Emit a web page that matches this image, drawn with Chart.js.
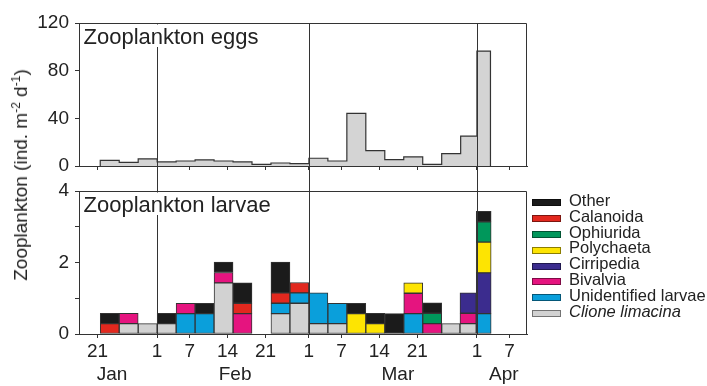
<!DOCTYPE html>
<html>
<head>
<meta charset="utf-8">
<script src="https://cdn.jsdelivr.net/npm/chart.js@4.4.1/dist/chart.umd.min.js"></script>
<style>
  body { margin: 0; background: #fff; font-family: 'Liberation Sans', Arial, sans-serif; color: #222; }
  #wrap { position: relative; width: 707px; height: 386px; overflow: hidden; }
  #wrap canvas { position: absolute; left: 0; top: 0; }
  #ytitle { position: absolute; left: 21px; top: 175px; transform: translate(-50%, -50%) rotate(-90deg); white-space: nowrap; font-size: 19px; }
  #ytitle sup { font-size: 12px; line-height: 0; }
  #legend { position: absolute; left: 532px; top: 193px; font-size: 16.5px; line-height: 15.8px; }
  #legend .row { display: flex; align-items: center; white-space: nowrap; }
  #legend .sw { width: 27px; height: 5px; border: 1px solid rgba(0, 0, 0, 0.45); margin-right: 8px; position: relative; top: 2px; }
</style>
</head>
<body>
<div id="wrap">
  <canvas id="eggs" width="707" height="386"></canvas>
  <canvas id="larvae" width="707" height="386"></canvas>
  <div id="ytitle">Zooplankton (ind. m<sup>-2</sup> d<sup>-1</sup>)</div>
  <div id="legend"></div>
</div>
<script>
// sampling intervals as day of year (1 = 1 Jan), one value per interval
const binEdges = [21.5, 25, 28.5, 32, 35.5, 39, 42.5, 46, 49.5, 53, 56.5, 60, 63.5, 67, 70.5, 74, 77.5, 81, 84.5, 88, 91, 93.5]

const eggs = [4.8, 3.1, 5.9, 3.4, 4.2, 5.1, 4.2, 3.4, 1.4, 2.5, 2.0, 6.5, 4.2, 44.1, 12.9, 5.3, 7.6, 1.4, 10.4, 25.0, 96.4]

const clione     = [0, 0.29, 0.29, 0.29, 0, 0, 1.43, 0, 0, 0.57, 0.86, 0.29, 0.29, 0, 0, 0, 0, 0, 0.29, 0.29, 0]
const unident    = [0, 0, 0, 0, 0.57, 0.57, 0, 0, 0, 0.29, 0.29, 0.86, 0.57, 0, 0, 0, 0.57, 0, 0, 0, 0.57]
const bivalvia   = [0, 0.29, 0, 0, 0.29, 0, 0.29, 0.57, 0, 0, 0, 0, 0, 0, 0, 0, 0.57, 0.29, 0, 0.29, 0]
const cirripedia = [0, 0, 0, 0, 0, 0, 0, 0, 0, 0, 0, 0, 0, 0, 0, 0, 0, 0, 0, 0.57, 1.14]
const polychaeta = [0, 0, 0, 0, 0, 0, 0, 0, 0, 0, 0, 0, 0, 0.57, 0.29, 0, 0.29, 0, 0, 0, 0.86]
const ophiurida  = [0, 0, 0, 0, 0, 0, 0, 0, 0, 0, 0, 0, 0, 0, 0, 0, 0, 0.29, 0, 0, 0.57]
const calanoida  = [0.29, 0, 0, 0, 0, 0, 0, 0.29, 0, 0.29, 0.29, 0, 0, 0, 0, 0, 0, 0, 0, 0, 0]
const other      = [0.29, 0, 0, 0.29, 0, 0.29, 0.29, 0.57, 0, 0.86, 0, 0, 0, 0.29, 0.29, 0.57, 0, 0.29, 0, 0, 0.29]

// axis ticks
const dayTicks = [21, 32, 38, 45, 52, 60, 66, 73, 80, 91, 97]
const dayLabels = ['21', '1', '7', '14', '21', '1', '7', '14', '21', '1', '7']
const monthTicks = [23.66, 46.38, 76.42, 95.95]
const monthLabels = ['Jan', 'Feb', 'Mar', 'Apr']
const monthStarts = [32, 60, 91]

const xMin = 17.58
const xMax = 100.24

// stack order, bottom first
const larvae = [
  { label: 'Clione limacina', values: clione, color: '#d2d2d2', italic: true },
  { label: 'Unidentified larvae', values: unident, color: '#0a9fdb' },
  { label: 'Bivalvia', values: bivalvia, color: '#e5147f' },
  { label: 'Cirripedia', values: cirripedia, color: '#3b2c8e' },
  { label: 'Polychaeta', values: polychaeta, color: '#fde402' },
  { label: 'Ophiurida', values: ophiurida, color: '#00975b' },
  { label: 'Calanoida', values: calanoida, color: '#e2281e' },
  { label: 'Other', values: other, color: '#1b1b1b' }
]

const FONT = '"Liberation Sans", Arial, sans-serif'
const INK = '#333'
Chart.defaults.font.family = FONT
Chart.defaults.font.size = 19
Chart.defaults.color = '#222'

const binCentres = binEdges.slice(0, -1).map((e, i) => (e + binEdges[i + 1]) / 2)

// outline of the egg histogram: up from zero, one step per interval, back down
const eggSteps = [{ x: binEdges[0], y: 0 }]
eggs.forEach((v, i) => eggSteps.push({ x: binEdges[i], y: v }))
eggSteps.push({ x: binEdges[binEdges.length - 1], y: eggs[eggs.length - 1] })
eggSteps.push({ x: binEdges[binEdges.length - 1], y: 0 })

// month lines, frame and panel title
const panelDecor = {
  id: 'panelDecor',
  afterDatasetsDraw(chart, args, opts) {
    const { ctx, chartArea: a } = chart
    const x = chart.scales.x
    ctx.save()
    ctx.strokeStyle = INK
    ctx.lineWidth = 1
    monthStarts.forEach(d => {
      const px = Math.round(x.getPixelForValue(d)) + 0.5
      ctx.beginPath()
      ctx.moveTo(px, a.top)
      ctx.lineTo(px, a.bottom + opts.extend)
      ctx.stroke()
    })
    ctx.beginPath()
    ctx.moveTo(a.left, Math.round(a.top) + 0.5)
    ctx.lineTo(Math.round(a.right) - 0.5, Math.round(a.top) + 0.5)
    ctx.lineTo(Math.round(a.right) - 0.5, a.bottom)
    ctx.stroke()

    ctx.font = '22px ' + FONT
    const w = ctx.measureText(opts.text).width
    ctx.fillStyle = '#fff'
    ctx.fillRect(a.left + 1.5, a.top + 1.5, w + 8, 22.5)
    ctx.fillStyle = '#222'
    ctx.textBaseline = 'alphabetic'
    ctx.fillText(opts.text, a.left + 4.5, a.top + 20.5)
    ctx.restore()
  }
}

const setDayTicks = s => { s.ticks = dayTicks.map(v => ({ value: v })) }
const setMonthTicks = s => { s.ticks = monthTicks.map(v => ({ value: v })) }
const tickGrid = { drawOnChartArea: false, tickLength: 4, color: INK, offset: false }

new Chart(document.getElementById('eggs'), {
  type: 'line',
  data: {
    datasets: [{
      data: eggSteps,
      stepped: true,
      fill: 'origin',
      backgroundColor: '#d4d4d4',
      borderColor: INK,
      borderWidth: 1.2,
      pointRadius: 0
    }]
  },
  plugins: [panelDecor],
  options: {
    responsive: false,
    animation: false,
    events: [],
    layout: { padding: { top: 23, right: 180, bottom: 215, left: 0 } },
    plugins: {
      legend: { display: false },
      tooltip: { enabled: false },
      panelDecor: { text: 'Zooplankton eggs', extend: 25 }
    },
    scales: {
      x: {
        type: 'linear', min: xMin, max: xMax, offset: false,
        afterBuildTicks: setDayTicks,
        afterFit: s => { s.height = 5 },
        grid: tickGrid,
        border: { color: INK },
        ticks: { display: false }
      },
      y: {
        min: 0, max: 120,
        afterFit: s => { s.width = 79 },
        grid: tickGrid,
        border: { color: INK },
        ticks: { stepSize: 20, padding: 6, callback: v => (v % 40 === 0 ? v : '') }
      }
    }
  }
})

new Chart(document.getElementById('larvae'), {
  type: 'bar',
  data: {
    datasets: larvae.map(s => ({
      label: s.label,
      data: binCentres.map((c, i) => ({ x: c, y: s.values[i] })),
      backgroundColor: s.color
    }))
  },
  plugins: [panelDecor],
  options: {
    responsive: false,
    animation: false,
    events: [],
    layout: { padding: { top: 191, right: 180, bottom: 0, left: 0 } },
    datasets: {
      bar: {
        barThickness: 'flex',
        categoryPercentage: 1,
        barPercentage: 1,
        borderWidth: 1,
        borderColor: INK,
        borderSkipped: false
      }
    },
    plugins: {
      legend: { display: false },
      tooltip: { enabled: false },
      panelDecor: { text: 'Zooplankton larvae', extend: 0 }
    },
    scales: {
      x: {
        type: 'linear', min: xMin, max: xMax, offset: false, stacked: true,
        afterBuildTicks: setDayTicks,
        afterFit: s => { s.height = 28 },
        grid: tickGrid,
        border: { color: INK },
        ticks: { autoSkip: false, maxRotation: 0, padding: 2, callback: (v, i) => dayLabels[i] }
      },
      month: {
        type: 'linear', axis: 'x', position: 'bottom', weight: 1,
        min: xMin, max: xMax, offset: false,
        afterBuildTicks: setMonthTicks,
        afterFit: s => { s.height = 24 },
        grid: { display: false, drawTicks: false, tickLength: 0 },
        border: { display: false },
        ticks: { autoSkip: false, maxRotation: 0, padding: 1, callback: (v, i) => monthLabels[i] }
      },
      y: {
        stacked: true, min: 0, max: 4,
        afterFit: s => { s.width = 79 },
        grid: tickGrid,
        border: { color: INK },
        ticks: { stepSize: 1, padding: 6, callback: v => (v % 2 === 0 ? v : '') }
      }
    }
  }
})

// legend, top of the stack first
const legend = document.getElementById('legend')
larvae.slice().reverse().forEach(s => {
  const row = document.createElement('div')
  row.className = 'row'
  const sw = document.createElement('span')
  sw.className = 'sw'
  sw.style.background = s.color
  const txt = document.createElement('span')
  txt.textContent = s.label
  if (s.italic) txt.style.fontStyle = 'italic'
  row.append(sw, txt)
  legend.append(row)
})
</script>
</body>
</html>
